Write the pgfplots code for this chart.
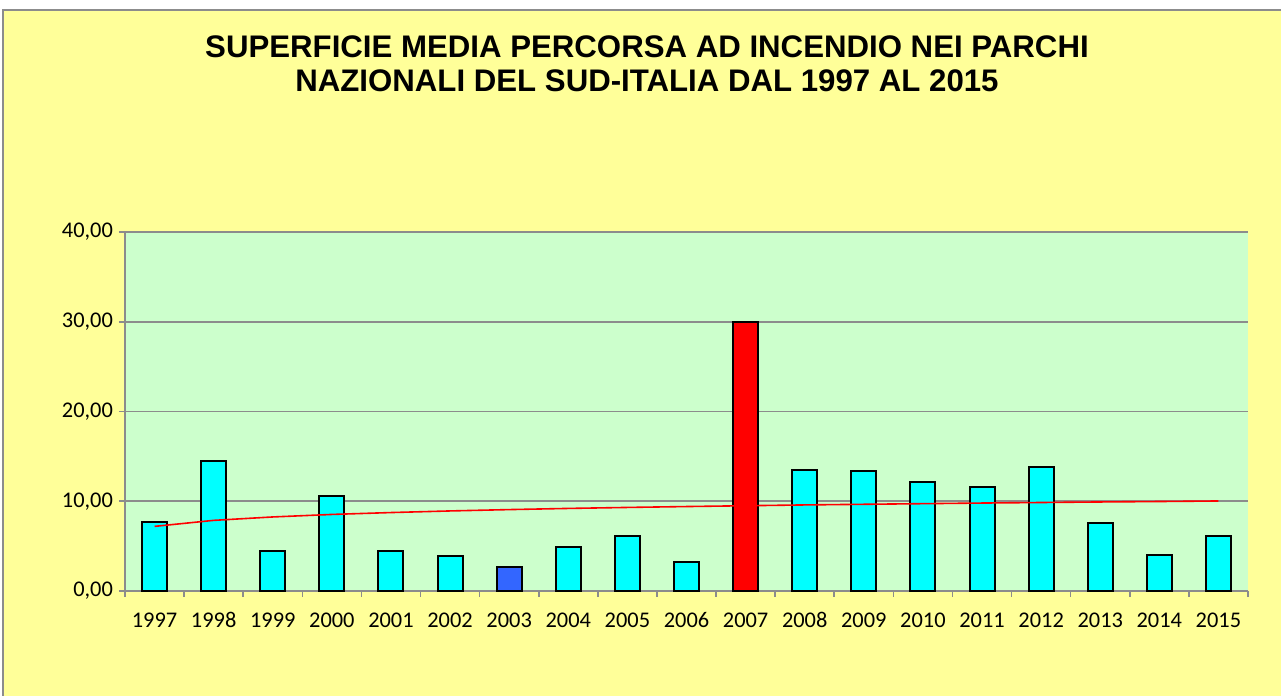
\documentclass[border=0pt]{standalone}
\usepackage{pgfplots}
\pgfplotsset{compat=1.18}
\usepackage{fontspec}
\setmainfont{Carlito}
\newfontfamily\titlefont{Liberation Sans}
\definecolor{chartbg}{HTML}{FFFF99}
\definecolor{plotbg}{HTML}{CCFFCC}
\definecolor{barcyan}{HTML}{00FFFF}
\definecolor{barblue}{HTML}{3366FF}
\definecolor{gridgray}{HTML}{8C8C8C}

\begin{document}
\begin{tikzpicture}[x=1pt, y=1pt]
% chart area
\fill[white] (-62.5,-52.5) rectangle (578,295.5);
\filldraw[fill=chartbg, draw=gridgray, line width=0.6pt] (-61,-60) rectangle (590,290.5);
\node[font=\titlefont\bfseries\fontsize{15.6}{17}\selectfont, align=center, anchor=center]
  at (261,263.5) {SUPERFICIE MEDIA PERCORSA AD INCENDIO NEI PARCHI\\NAZIONALI DEL SUD-ITALIA DAL 1997 AL 2015};
\begin{axis}[
    at={(0pt,0pt)}, anchor=south west,
    scale only axis,
    width=561.5pt, height=179.5pt,
    ybar, bar width=12.5pt,
    xmin=0.5, xmax=19.5,
    ymin=0, ymax=40,
    xtick={1,...,19},
    xticklabels={1997,1998,1999,2000,2001,2002,2003,2004,2005,2006,2007,2008,2009,2010,2011,2012,2013,2014,2015},
    major x tick style={draw=none},
    minor xtick={0.5,1.5,...,19.5},
    minor x tick style={draw=gridgray, line width=0.8pt},
    minor tick length=3pt,
    ytick={0,10,20,30,40},
    major tick length=3pt,
    tick align=outside,
    y tick style={draw=gridgray, line width=0.8pt},
    axis x line*=bottom, axis y line*=left,
    axis line style={draw=gridgray, line width=0.8pt, -},
    ymajorgrids,
    grid style={draw=gridgray, line width=0.8pt},
    axis background/.style={fill=plotbg},
    tick label style={font=\fontsize{11.2}{13}\selectfont, black},
    xticklabel style={text height=7pt, text depth=0pt, yshift=-4.5pt},
    yticklabel style={xshift=0.5pt},
    yticklabel={\pgfmathprintnumber[fixed, fixed zerofill, precision=2, use comma, assume math mode=true]{\tick}},
    clip=false,
]
\addplot[bar shift=0pt, fill=barcyan, draw=black, line width=1pt] coordinates {
  (1,7.66) (2,14.54) (3,4.42) (4,10.63) (5,4.46) (6,3.90)
  (8,4.91) (9,6.13) (10,3.23) (12,13.49) (13,13.34) (14,12.12)
  (15,11.60) (16,13.83) (17,7.55) (18,4.02) (19,6.18)
};
\addplot[bar shift=0pt, fill=barblue, draw=black, line width=1pt] coordinates {(7,2.72)};
\addplot[bar shift=0pt, fill=red, draw=black, line width=1pt] coordinates {(11,30.0)};
% logarithmic trend line
\addplot[sharp plot, red, line width=0.8pt, mark=none] coordinates {
  (1,7.20) (2,7.87) (3,8.25) (4,8.53) (5,8.74) (6,8.92) (7,9.07) (8,9.20)
  (9,9.31) (10,9.41) (11,9.50) (12,9.59) (13,9.66) (14,9.73) (15,9.80)
  (16,9.86) (17,9.92) (18,9.97) (19,10.03)
};
\end{axis}
\pgfresetboundingbox
\path[use as bounding box] (-62.5,-52.5) rectangle (578,295.5);
\end{tikzpicture}
\end{document}
